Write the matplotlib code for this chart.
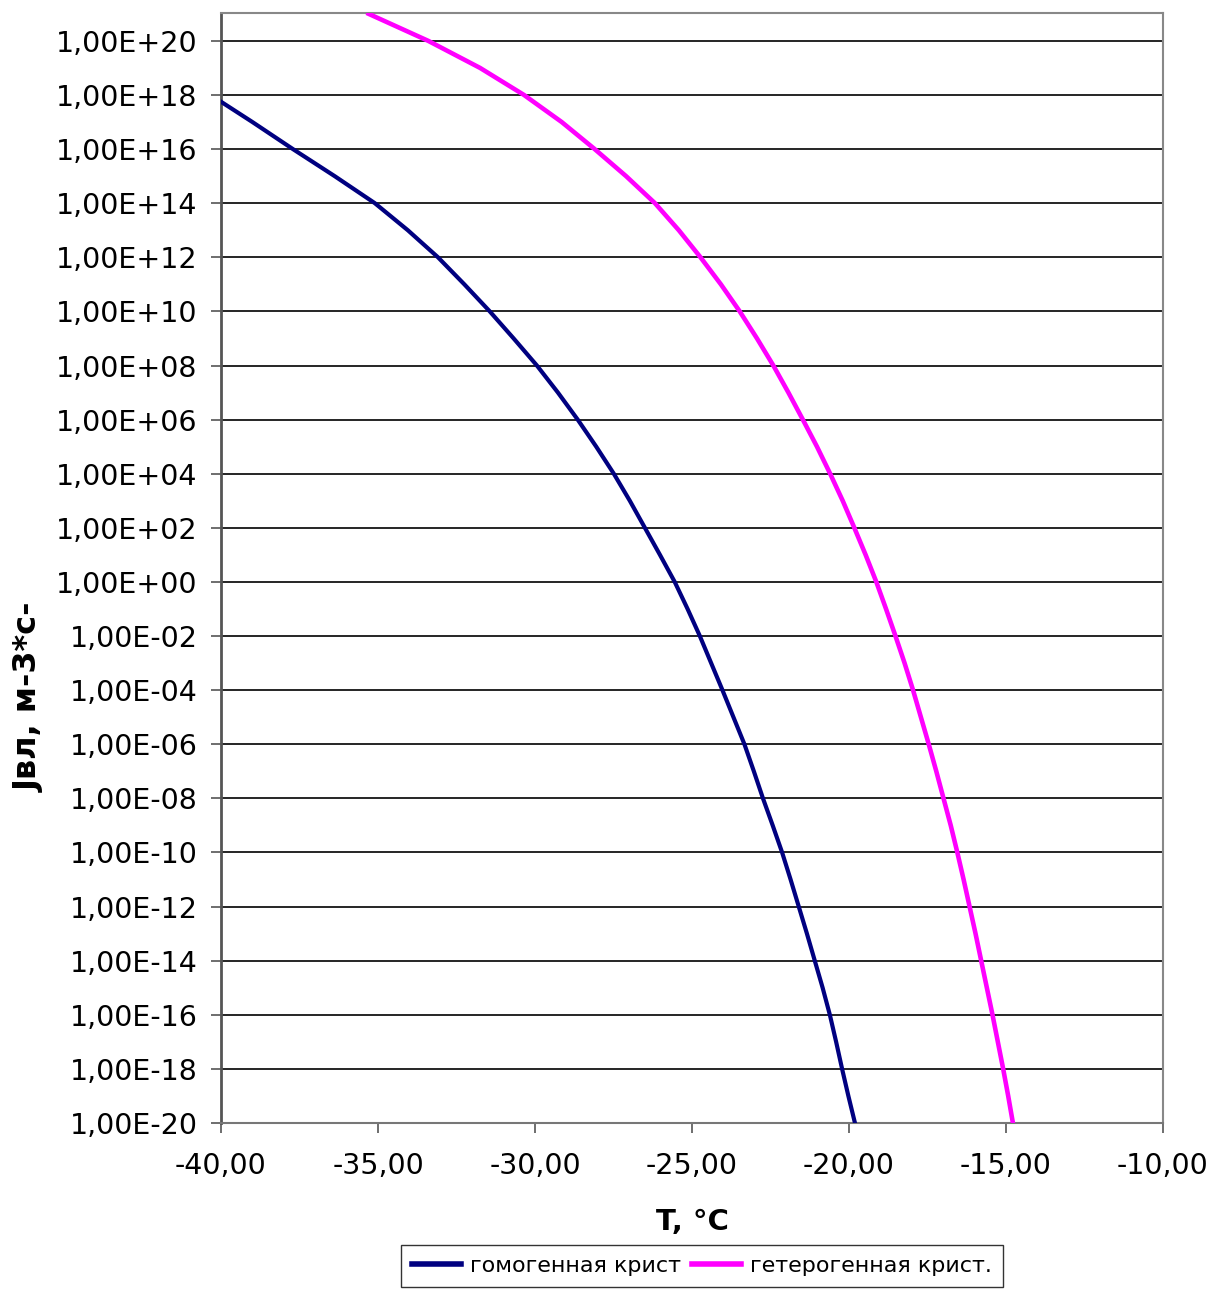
import matplotlib
matplotlib.use("Agg")
import matplotlib.pyplot as plt
from matplotlib.ticker import FixedLocator, FixedFormatter, NullLocator
from matplotlib.lines import Line2D
import numpy as np

plt.rcParams['font.family'] = ['DejaVu Sans']

# Data (T in °C, log10 of nucleation rate)
homo_T = [-40.00, -39.00, -37.71, -36.38, -35.10, -34.05, -33.09, -32.25, -31.44,
          -30.68, -29.94, -29.27, -28.64, -28.05, -27.49, -26.98, -26.50, -26.02,
          -25.55, -25.14, -24.75, -24.39, -24.03, -23.68, -23.33, -23.03, -22.74,
          -22.43, -22.13, -21.86, -21.60, -21.34, -21.09, -20.84, -20.61, -20.41,
          -20.22, -20.02, -19.81]
homo_logJ = [17.75, 17, 16, 15, 14, 13, 12, 11, 10, 9, 8, 7, 6, 5, 4, 3, 2, 1, 0,
             -1, -2, -3, -4, -5, -6, -7, -8, -9, -10, -11, -12, -13, -14, -15, -16,
             -17, -18, -19, -20]

hetero_T = [-35.30, -33.40, -31.75, -30.35, -29.15, -28.10, -27.10, -26.18, -25.42,
            -24.73, -24.08, -23.48, -22.93, -22.41, -21.93, -21.47, -21.02, -20.60,
            -20.20, -19.83, -19.47, -19.13, -18.82, -18.52, -18.23, -17.96, -17.71,
            -17.46, -17.22, -16.99, -16.76, -16.55, -16.35, -16.16, -15.97, -15.79,
            -15.61, -15.43, -15.26, -15.09, -14.93, -14.78]
hetero_logJ = [21, 20, 19, 18, 17, 16, 15, 14, 13, 12, 11, 10, 9, 8, 7, 6, 5, 4, 3,
               2, 1, 0, -1, -2, -3, -4, -5, -6, -7, -8, -9, -10, -11, -12, -13, -14,
               -15, -16, -17, -18, -19, -20]

x_ticks = [-40, -35, -30, -25, -20, -15, -10]
x_tick_labels = ["-40,00", "-35,00", "-30,00", "-25,00", "-20,00", "-15,00", "-10,00"]
y_exps = list(range(-20, 21, 2))
y_tick_labels = ["1,00E" + format(e, '+03d') for e in y_exps]

series_names = ["гомогенная крист", "гетерогенная крист."]
colors = ["#000080", "#FF00FF"]

fig = plt.figure(figsize=(12.14, 12.90), dpi=100)
ax = fig.add_axes([221/1214, 1 - 1123/1290, (1163-221)/1214, (1123-13)/1290])

ax.set_yscale('log')
ax.plot(homo_T, 10.0 ** np.array(homo_logJ, dtype=float), color=colors[0], lw=3.0,
        solid_joinstyle='round', zorder=3, clip_on=True)
ax.plot(hetero_T, 10.0 ** np.array(hetero_logJ, dtype=float), color=colors[1], lw=3.3,
        solid_joinstyle='round', zorder=3, clip_on=True)

ax.set_xlim(-40, -10)
ax.set_ylim(1e-20, 10**21.03)

ax.yaxis.set_major_locator(FixedLocator([10.0 ** e for e in y_exps]))
ax.yaxis.set_major_formatter(FixedFormatter(y_tick_labels))
ax.yaxis.set_minor_locator(NullLocator())
ax.xaxis.set_major_locator(FixedLocator(x_ticks))
ax.xaxis.set_major_formatter(FixedFormatter(x_tick_labels))
ax.xaxis.set_minor_locator(NullLocator())

ax.grid(True, axis='y', color='black', lw=1.2, zorder=1)
ax.set_axisbelow(True)

ax.tick_params(axis='both', direction='out', length=7, width=1.2, color='#555555',
               labelsize=20.5, labelcolor='black')
ax.tick_params(axis='y', pad=10)
ax.tick_params(axis='x', pad=14)

ax.spines['left'].set_color('#555555')
ax.spines['left'].set_linewidth(2)
ax.spines['bottom'].set_color('#777777')
ax.spines['bottom'].set_linewidth(1.5)
for s in ['top', 'right']:
    ax.spines[s].set_color('#888888')
    ax.spines[s].set_linewidth(1.5)

ax.set_xlabel("T, °C", fontsize=21, fontweight='bold', labelpad=20)
ax.set_ylabel("Jвл, м-3*с-", fontsize=23, fontweight='bold')
ax.yaxis.set_label_coords((45 - 221) / 942, (1123 - 697) / 1110)

handles = [Line2D([0], [0], color=c, lw=4) for c in colors]
leg = fig.legend(handles, series_names, loc='upper center',
                 bbox_to_anchor=(702/1214, 1 - 1245/1290), ncol=2,
                 fontsize=16, frameon=True, fancybox=False, edgecolor='black',
                 handlelength=2.2, handletextpad=0.4, columnspacing=0.5,
                 borderpad=0.5, borderaxespad=0)
leg.get_frame().set_linewidth(1.0)

fig.savefig("out.png", dpi=100)
